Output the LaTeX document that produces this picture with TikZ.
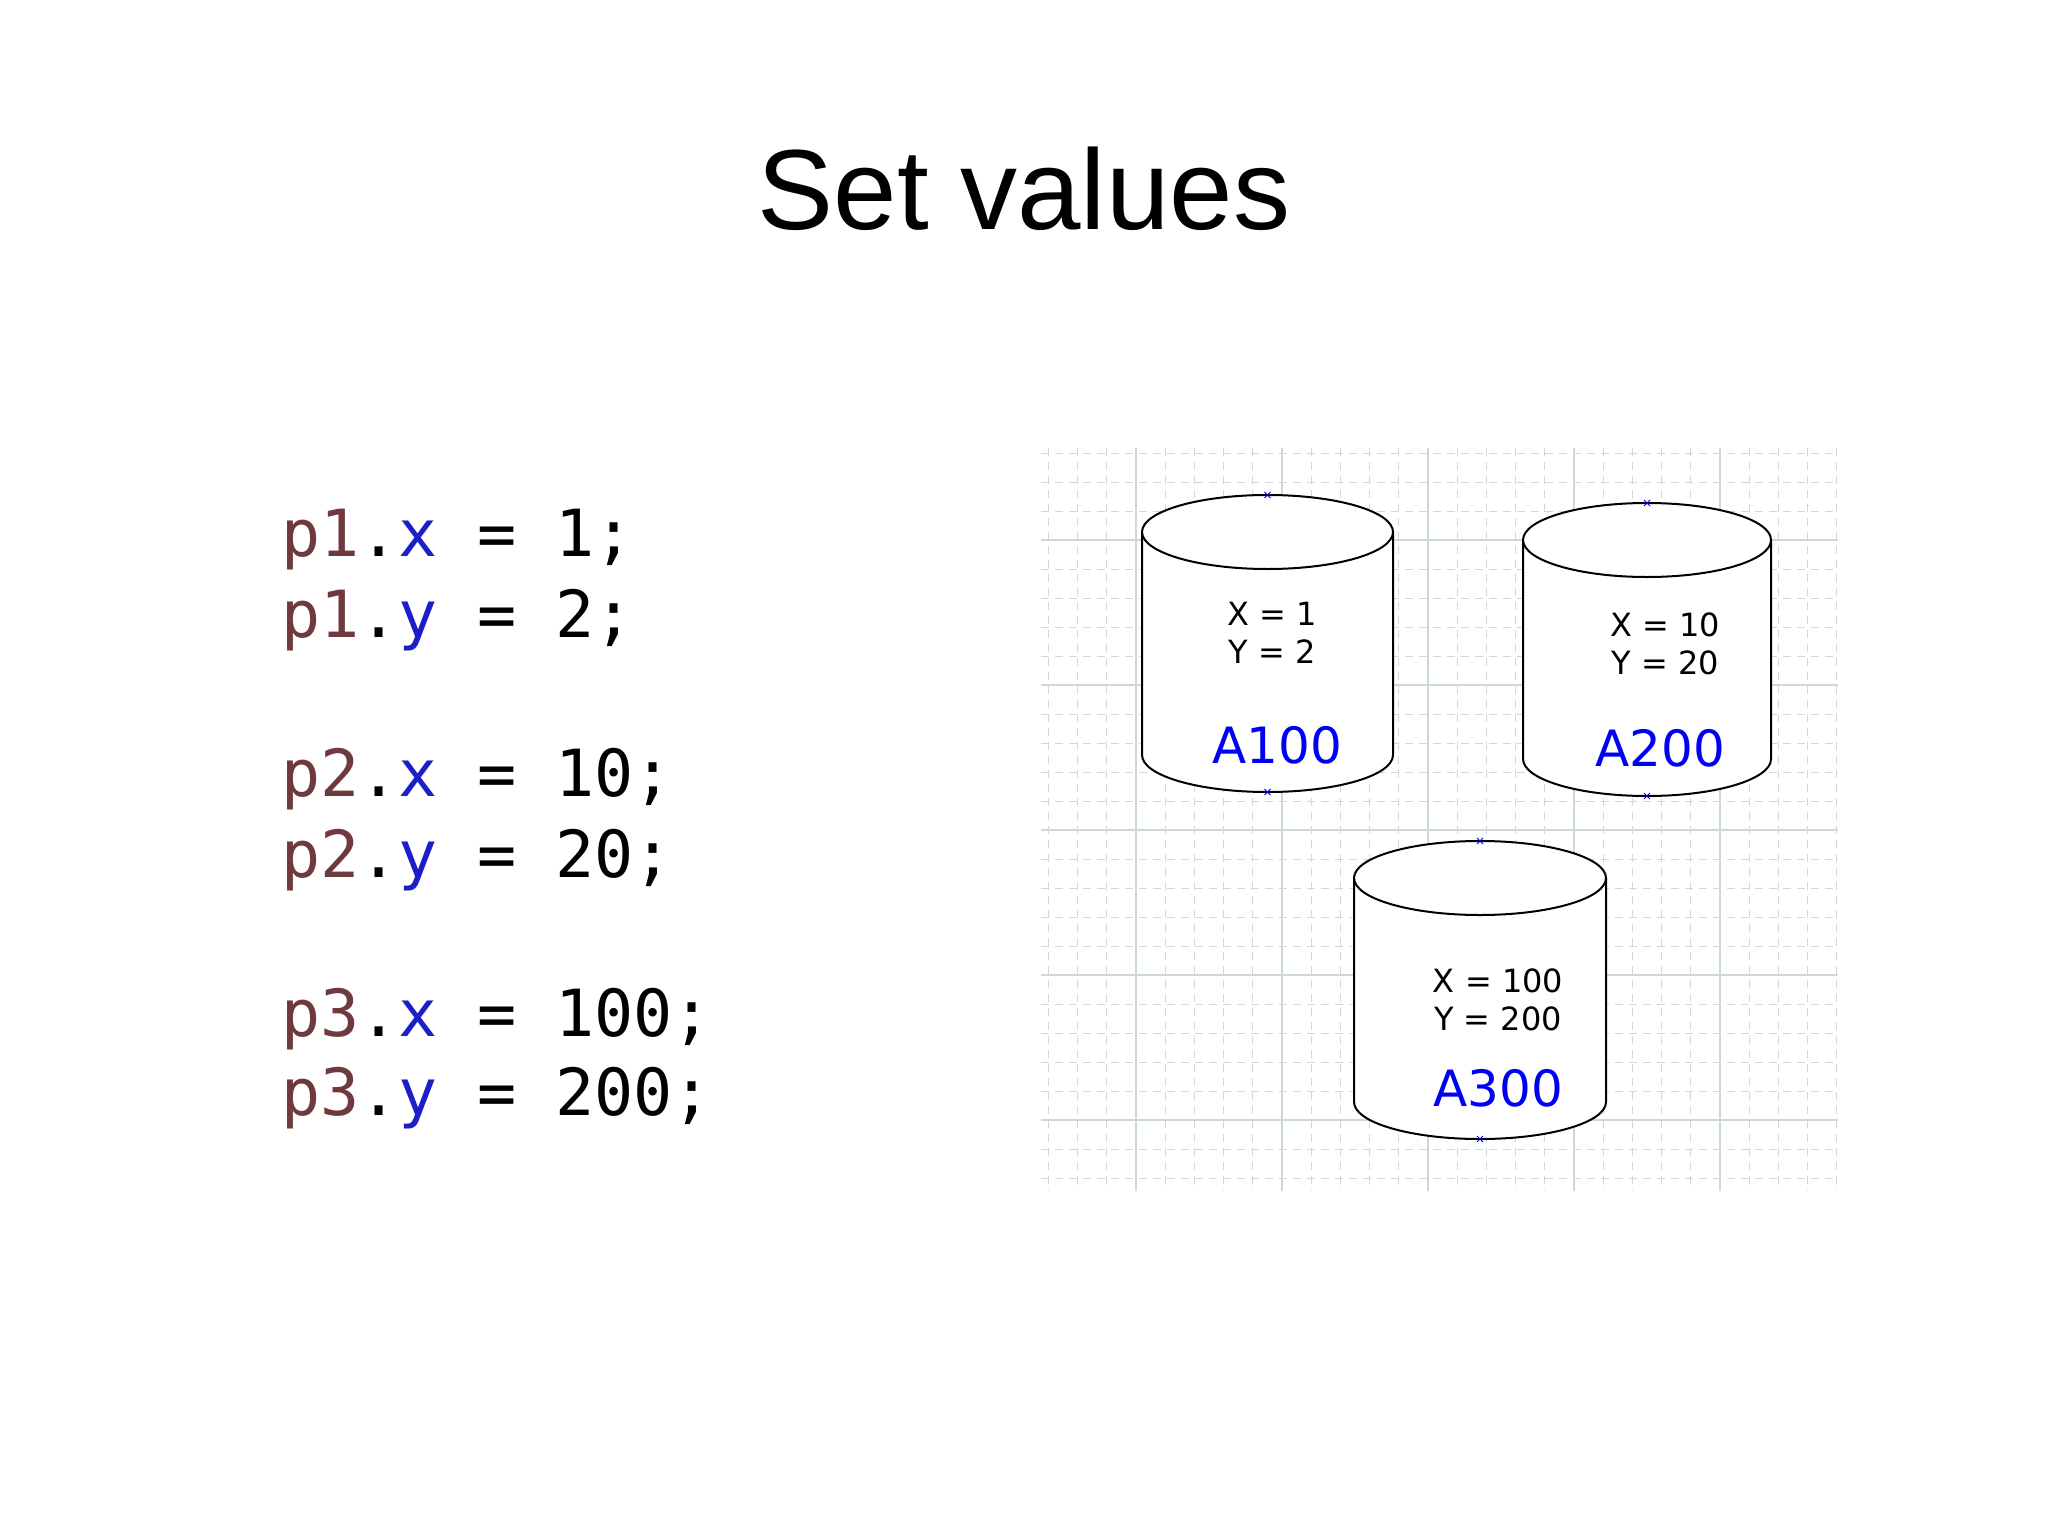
\documentclass[tikz,border=0pt]{standalone}
\usepackage{fontspec}
\setmainfont{Liberation Sans}
\newfontfamily\codefont{DejaVu Sans Mono}
\newfontfamily\cylfont{DejaVu Sans}
\definecolor{pcol}{RGB}{110,58,62}
\definecolor{fcol}{RGB}{30,30,200}
\definecolor{gridc}{RGB}{205,215,222}
\definecolor{lblue}{RGB}{0,0,245}
\begin{document}
\begin{tikzpicture}[x=0.5pt,y=-0.5pt,
  code/.style={anchor=base west,inner sep=0,font=\codefont\fontsize{32.5}{32}\selectfont},
  small/.style={font=\cylfont\fontsize{16}{19}\selectfont,align=center,inner sep=0},
  big/.style={font=\cylfont\fontsize{25}{25}\selectfont,text=lblue,inner sep=0},
  cyl/.style={draw=black,line width=1pt,fill=white}]
\useasboundingbox (0,0) rectangle (2048,1535);
\node[font=\fontsize{57}{57}\selectfont] (title) at (1024,189) {Set values};
% code
\node[code] (l1) at (281,556) {\textcolor{pcol}{p1}.\textcolor{fcol}{x} = 1;};
\node[code] (l2) at (281,637) {\textcolor{pcol}{p1}.\textcolor{fcol}{y} = 2;};
\node[code] (l3) at (281,796) {\textcolor{pcol}{p2}.\textcolor{fcol}{x} = 10;};
\node[code] (l4) at (281,877) {\textcolor{pcol}{p2}.\textcolor{fcol}{y} = 20;};
\node[code] (l5) at (281,1036) {\textcolor{pcol}{p3}.\textcolor{fcol}{x} = 100;};
\node[code] (l6) at (281,1115) {\textcolor{pcol}{p3}.\textcolor{fcol}{y} = 200;};
% grid
\begin{scope}
\clip (1041,448) rectangle (1838,1191);
\foreach \i in {-4,...,28} {
  \draw[gridc,dashed,dash pattern=on 4pt off 3pt,line width=0.5pt] ({1136+29.2*\i},448) -- ({1136+29.2*\i},1191);
  \draw[gridc,dashed,dash pattern=on 4pt off 3pt,line width=0.5pt] (1041,{540+29*\i}) -- (1838,{540+29*\i});
}
\foreach \i in {-1,...,5} {
  \draw[gridc,line width=0.8pt] ({1136+146*\i},448) -- ({1136+146*\i},1191);
  \draw[gridc,line width=0.8pt] (1041,{540+145*\i}) -- (1838,{540+145*\i});
}
\end{scope}
\foreach \l/\r/\t/\b in {1142/1393/532/755, 1523/1771/540/759, 1354/1606/878/1102} {
  \pgfmathsetmacro{\cx}{(\l+\r)/2}
  \pgfmathsetmacro{\rx}{(\r-\l)/2}
  \fill[white] (\l,\t) -- (\l,\b) arc[start angle=180,end angle=360,x radius=\rx,y radius=-37] -- (\r,\t) -- cycle;
  \draw[cyl] (\l,\t) -- (\l,\b) arc[start angle=180,end angle=360,x radius=\rx,y radius=-37] -- (\r,\t);
  \draw[cyl] (\cx,\t) ellipse[x radius=\rx,y radius=37];
  \draw[lblue,line width=0.5pt] (\cx-3,\t-40) -- (\cx+3,\t-34) (\cx-3,\t-34) -- (\cx+3,\t-40);
  \draw[lblue,line width=0.5pt] (\cx-3,\b+34) -- (\cx+3,\b+40) (\cx-3,\b+40) -- (\cx+3,\b+34);
}
\node[small] (t1) at (1272,633) {X = 1\\Y = 2};
\node[big] (n1) at (1277,745) {A100};
\node[small] (t2) at (1665,644) {X = 10\\Y = 20};
\node[big] (n2) at (1660,748) {A200};
\node[small] (t3) at (1498,1000) {X = 100\\Y = 200};
\node[big] (n3) at (1498,1088) {A300};
\end{tikzpicture}
\end{document}
